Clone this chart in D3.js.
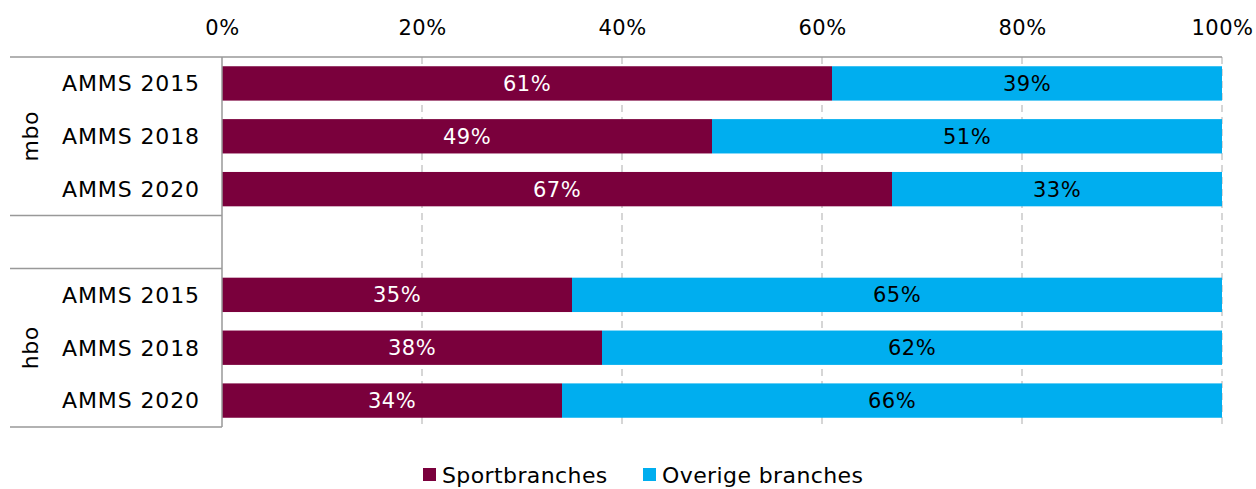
<!DOCTYPE html>
<html><head><meta charset="utf-8">
<script src="https://cdn.jsdelivr.net/npm/d3@7"></script>
<style>body{margin:0;background:#fff}svg{display:block;font-family:"DejaVu Sans",Verdana,sans-serif}</style>
</head><body>
<script>
const groups = ["mbo", "hbo"];
const years = ["AMMS 2015", "AMMS 2018", "AMMS 2020"];
const sport = [61, 49, 67, 35, 38, 34];
const overig = [39, 51, 33, 65, 62, 66];
const seriesNames = ["Sportbranches", "Overige branches"];
const colors = ["#7a003c", "#00aeef"];
const xTicks = [0, 20, 40, 60, 80, 100];

const W = 1256, H = 489;
const svg = d3.select("body").append("svg").attr("width", W).attr("height", H);

const rows = [];
groups.forEach((g, gi) => {
  years.forEach((y, yi) => {
    const i = gi * 3 + yi;
    rows.push({key: g + "|" + y, group: g, year: y, vals: [sport[i], overig[i]]});
  });
});
const slotKeys = [...rows.slice(0,3).map(r=>r.key), "gap", ...rows.slice(3).map(r=>r.key)];

const x = d3.scaleLinear().domain([0, 100]).range([222, 1222]);
const y = d3.scaleBand().domain(slotKeys).range([57, 427]).paddingInner(0.35).paddingOuter(0.175);
const step = y.step();

// gridlines
svg.append("g").selectAll("line").data(xTicks.slice(1)).join("line")
  .attr("x1", d => x(d)).attr("x2", d => x(d)).attr("y1", 57).attr("y2", 427)
  .attr("stroke", "#c0c0c0").attr("stroke-width", 1.3).attr("stroke-dasharray", "7,5");

// top axis
const axis = d3.axisTop(x).tickValues(xTicks).tickFormat(d => d + "%").tickSize(0).tickPadding(22);
const ag = svg.append("g").attr("transform", "translate(0,57)").call(axis);
ag.select(".domain").remove();
ag.selectAll("text").attr("font-size", 21).attr("fill", "#000").attr("letter-spacing", "0.5px")
  .attr("font-family", "DejaVu Sans, Verdana, sans-serif");

// bars
rows.forEach(r => {
  let acc = 0;
  r.vals.forEach((v, si) => {
    const x0 = x(acc), x1 = x(acc + v);
    svg.append("rect").attr("x", x0).attr("y", y(r.key)).attr("width", x1 - x0).attr("height", y.bandwidth())
      .attr("fill", colors[si]);
    svg.append("text").attr("x", (x0 + x1) / 2).attr("y", y(r.key) + y.bandwidth() / 2)
      .attr("dy", "0.36em").attr("text-anchor", "middle").attr("font-size", 21).attr("letter-spacing", "0.5px")
      .attr("fill", si === 0 ? "#fff" : "#000").text(v + "%");
    acc += v;
  });
  svg.append("text").attr("x", 200).attr("y", y(r.key) + y.bandwidth() / 2).attr("dy", "0.36em")
    .attr("text-anchor", "end").attr("font-size", 22).attr("letter-spacing", "0.9px").attr("fill", "#000").text(r.year);
});

// frame lines
const lc = "#999";
svg.append("line").attr("x1", 10).attr("x2", 1222).attr("y1", 57).attr("y2", 57).attr("stroke", lc).attr("stroke-width", 1.5);
svg.append("line").attr("x1", 222).attr("x2", 222).attr("y1", 57).attr("y2", 427).attr("stroke", lc).attr("stroke-width", 1.5);
[57 + 3 * step, 57 + 4 * step, 427].forEach(yy => {
  svg.append("line").attr("x1", 10).attr("x2", 222).attr("y1", yy).attr("y2", yy).attr("stroke", lc).attr("stroke-width", 1.5);
});

// group labels
groups.forEach((g, gi) => {
  const ys = rows.filter(r => r.group === g).map(r => y(r.key) + y.bandwidth() / 2);
  const cy = d3.mean(ys);
  svg.append("text").attr("transform", `translate(30,${cy}) rotate(-90)`).attr("dy", "0.36em")
    .attr("text-anchor", "middle").attr("font-size", 22).attr("letter-spacing", "0.5px").attr("fill", "#000").text(g);
});

// legend
const legX = [423, 643];
seriesNames.forEach((s, i) => {
  svg.append("rect").attr("x", legX[i]).attr("y", 468).attr("width", 13).attr("height", 13).attr("fill", colors[i]);
  svg.append("text").attr("x", legX[i] + 19).attr("y", 483).attr("font-size", 22).attr("letter-spacing", "0.4px")
    .attr("fill", "#000").text(s);
});
</script>
</body></html>
